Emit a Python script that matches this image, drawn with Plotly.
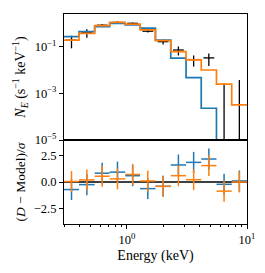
import numpy as np
import plotly.graph_objects as go

# bin edges (keV)
edges = [0.30, 0.40, 0.54, 0.72, 0.97, 1.29, 1.73, 2.32, 3.11, 4.16, 5.57, 7.46, 10.0]

# folded models (counts s^-1 keV^-1)
model_blue = [0.27, 0.44, 0.72, 1.0, 0.85, 0.62, 0.19, 0.032, 0.0047, 2.3e-4, 3e-6, 1e-7]
model_orange = [0.19, 0.37, 0.79, 1.1, 0.93, 0.52, 0.18, 0.061, 0.027, 0.010, 0.0025, 3.2e-4]

# observed data
data_y = [0.19, 0.40, 0.83, 1.09, 1.0, 0.46, 0.164, 0.072, 0.028, 0.033, 1e-9, 1e-9]
data_err = [0.105, 0.157, 0.11, 0.13, 0.08, 0.06, 0.04, 0.03, 0.014, 0.018, 0.0027, 0.0037]

# residuals
resid_blue = [-0.72, -0.25, 0.84, 0.94, 0.60, -0.63, -0.41, 1.62, 1.87, 2.19, -0.22, 0.10]
resid_orange = [0.05, 0.20, 0.55, 0.30, 0.72, 0.10, -0.41, 0.60, 0.22, 1.56, -0.87, 0.00]
resid_err = [1.0] * 12

BLUE = "#1f77b4"
ORANGE = "#ff7f0e"
FONT = "Liberation Serif"

e = np.array(edges)
cen = np.sqrt(e[:-1] * e[1:])
xlo = cen - e[:-1]
xhi = e[1:] - cen
dfrac = 10 ** 0.045
dxhi = cen * dfrac - cen
dxlo = cen - cen / dfrac

fig = go.Figure()

# data in top panel
fig.add_trace(go.Scatter(
    x=cen, y=data_y, mode="markers", marker=dict(size=2, opacity=0, color="black"),
    error_y=dict(type="data", array=data_err, color="black", thickness=1.3, width=0),
    error_x=dict(type="data", array=dxhi, arrayminus=dxlo, color="black", thickness=1.3, width=0),
    xaxis="x", yaxis="y", showlegend=False))

for vals, col in [(model_blue, BLUE), (model_orange, ORANGE)]:
    fig.add_trace(go.Scatter(
        x=edges, y=list(vals) + [vals[-1]], mode="lines", line=dict(shape="hv", color=col, width=1.7),
        xaxis="x", yaxis="y", showlegend=False))

for vals, col in [(resid_blue, BLUE), (resid_orange, ORANGE)]:
    fig.add_trace(go.Scatter(
        x=cen, y=vals, mode="markers", marker=dict(size=2, opacity=0, color=col),
        error_y=dict(type="data", array=resid_err, color=col, thickness=1.5, width=0),
        error_x=dict(type="data", array=xhi, arrayminus=xlo, color=col, thickness=1.5, width=0),
        xaxis="x2", yaxis="y2", showlegend=False))

xr = [np.log10(0.3), 1.0]
minor_vals = [0.3, 0.4, 0.5, 0.6, 0.7, 0.8, 0.9, 2, 3, 4, 5, 6, 7, 8, 9]

common = dict(showgrid=False, zeroline=False, showline=True, mirror=True,
              linecolor="black", linewidth=1, automargin=False,
              tickfont=dict(size=12.5))

fig.update_layout(
    width=265, height=273,
    margin=dict(l=64, r=18, t=14, b=49),
    paper_bgcolor="white", plot_bgcolor="white",
    font=dict(family=FONT, size=12, color="black"),
    xaxis=dict(type="log", range=xr, domain=[0, 1], anchor="y",
               showticklabels=False, ticks="", **common),
    yaxis=dict(type="log", range=[-5, 0.4], domain=[0.4, 1], anchor="x",
               tickmode="array", tickvals=[1e-5, 1e-3, 1e-1],
               ticktext=["10<sup>−5</sup>", "10<sup>−3</sup>", "10<sup>−1</sup>"],
               ticks="outside", ticklen=4, tickwidth=1, tickcolor="black",
               title=dict(text="<i>N</i><sub><i>E</i></sub> (s<sup>−1</sup> keV<sup>−1</sup>)",
                          font=dict(size=14), standoff=5),
               **common),
    xaxis2=dict(type="log", range=xr, domain=[0, 1], anchor="y2",
                tickmode="array", tickvals=[1, 10],
                ticktext=["10<sup>0</sup>", "10<sup>1</sup>"],
                ticks="outside", ticklen=4, tickwidth=1, tickcolor="black",
                minor=dict(tickmode="array", tickvals=minor_vals, ticks="outside",
                           ticklen=2, tickwidth=0.8, tickcolor="black", showgrid=False),
                title=dict(text="Energy (keV)", font=dict(size=14), standoff=4),
                **common),
    yaxis2=dict(range=[-4, 4], domain=[0, 0.4], anchor="x2",
                tickmode="array", tickvals=[-2.5, 0, 2.5], ticktext=["−2.5", "0.0", "2.5"],
                ticks="outside", ticklen=4, tickwidth=1, tickcolor="black",
                title=dict(text="(<i>D</i> − Model)/<i>σ</i>", font=dict(size=13.5), standoff=5),
                **common),
    shapes=[dict(type="line", xref="x2 domain", yref="y2", x0=0, x1=1, y0=0, y1=0,
                 line=dict(color="black", width=1.3), layer="below")],
)

fig.write_html("out.html", config={"displayModeBar": False},
               post_script="document.body.style.margin='0px';document.body.style.overflow='hidden';")
